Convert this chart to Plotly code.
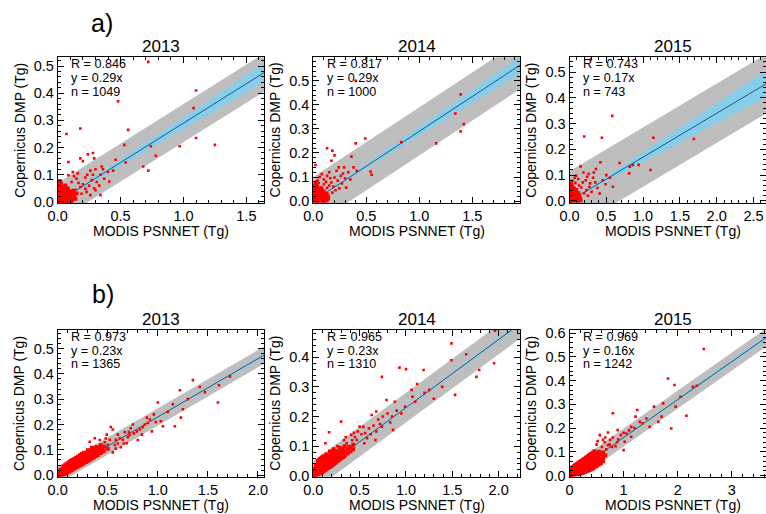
import plotly.graph_objects as go

W, H = 766, 514
FONT = "Liberation Sans, Arial, Helvetica, sans-serif"

years = ["2013", "2014", "2015"]
rows = ["a", "b"]

# Regression statistics for each panel
r_text = {"a": ["0.846", "0.817", "0.743"], "b": ["0.973", "0.965", "0.969"]}
slope = {"a": [0.29, 0.29, 0.17], "b": [0.23, 0.23, 0.16]}
n_obs = {"a": [1049, 1000, 743], "b": [1365, 1310, 1242]}
# Half-width of the grey prediction band (Tg) and of the slope uncertainty (blue cone)
band_half = {"a": [0.07, 0.10, 0.115], "b": [0.034, 0.05, 0.038]}
slope_err = {"a": [0.021, 0.018, 0.019], "b": [0.0025, 0.0025, 0.002]}

# Copernicus DMP vs MODIS PSNNET samples (x = MODIS, y = Copernicus), Tg.
# *_pts: isolated samples; *_core: the dense cloud of small units near the origin.
a13_pts = [
    (0.72, 0.515), (0.48, 0.37), (1.10, 0.41), (1.08, 0.345), (0.18, 0.27), (0.07, 0.25),
    (0.56, 0.265), (1.10, 0.235), (1.25, 0.21), (0.97, 0.205), (0.74, 0.205), (0.53, 0.21),
    (0.78, 0.17), (0.54, 0.145), (0.46, 0.155), (0.28, 0.18), (0.24, 0.175), (0.29, 0.16),
    (0.20, 0.15), (0.085, 0.147), (0.18, 0.16), (0.35, 0.13), (0.36, 0.12), (0.40, 0.11),
    (0.44, 0.115), (0.37, 0.085), (0.34, 0.10), (0.41, 0.075), (0.68, 0.13), (0.72, 0.115),
    (0.26, 0.115), (0.22, 0.09), (0.31, 0.073), (0.15, 0.085), (0.085, 0.098), (0.11, 0.073),
    (0.30, 0.043), (0.23, 0.037), (0.18, 0.055), (0.34, 0.025), (0.13, 0.095), (0.16, 0.105),
    (0.12, 0.11), (0.20, 0.065), (0.25, 0.06), (0.27, 0.08), (0.22, 0.048), (0.19, 0.03),
    (0.26, 0.025), (0.14, 0.045), (0.165, 0.07), (0.235, 0.10), (0.28, 0.10), (0.30, 0.12),
    (0.33, 0.06), (0.29, 0.05),
]
a13_core = [
    (0.003, 0.002), (0.014, 0.004), (0.027, 0.001), (0.04, 0.003), (0.052, 0.002), (0.066, 0.005),
    (0.079, 0.002), (0.093, 0.004), (0.11, 0.003), (0.006, 0.011), (0.019, 0.009), (0.031, 0.013),
    (0.045, 0.01), (0.058, 0.012), (0.071, 0.009), (0.086, 0.013), (0.10, 0.011), (0.118, 0.01),
    (0.14, 0.012), (0.002, 0.02), (0.012, 0.022), (0.024, 0.019), (0.037, 0.021), (0.05, 0.018),
    (0.064, 0.022), (0.078, 0.02), (0.093, 0.019), (0.112, 0.023), (0.13, 0.021), (0.007, 0.029),
    (0.018, 0.031), (0.03, 0.028), (0.043, 0.03), (0.056, 0.027), (0.07, 0.032), (0.085, 0.029),
    (0.102, 0.03), (0.122, 0.028), (0.15, 0.031), (0.003, 0.038), (0.014, 0.04), (0.026, 0.037),
    (0.039, 0.039), (0.053, 0.041), (0.068, 0.037), (0.083, 0.04), (0.10, 0.038), (0.125, 0.041),
    (0.009, 0.047), (0.021, 0.049), (0.035, 0.046), (0.049, 0.048), (0.064, 0.045),
    (0.081, 0.049), (0.004, 0.056), (0.016, 0.058), (0.03, 0.055),
    (0.046, 0.057), (0.062, 0.06), (0.01, 0.065), (0.025, 0.067),
    (0.005, 0.074), (0.02, 0.076),
]

a14_pts = [
    (0.50, 0.595), (0.40, 0.50), (1.39, 0.444), (1.34, 0.364), (1.42, 0.32), (1.39, 0.29),
    (1.16, 0.24), (0.83, 0.245), (0.49, 0.26), (0.40, 0.24), (0.13, 0.22), (0.18, 0.21),
    (0.20, 0.19), (0.17, 0.168), (0.36, 0.185), (0.02, 0.15), (0.15, 0.12), (0.22, 0.126),
    (0.29, 0.14), (0.33, 0.12), (0.38, 0.14), (0.35, 0.09), (0.41, 0.126), (0.54, 0.123),
    (0.55, 0.11), (0.31, 0.056), (0.27, 0.073), (0.20, 0.098), (0.13, 0.105), (0.08, 0.112),
    (0.17, 0.077), (0.245, 0.053), (0.10, 0.09), (0.06, 0.10), (0.23, 0.085), (0.26, 0.105),
    (0.30, 0.095), (0.19, 0.06), (0.21, 0.045), (0.15, 0.065), (0.12, 0.08), (0.04, 0.085),
    (0.28, 0.115), (0.24, 0.14), (0.16, 0.095), (0.13, 0.055), (0.10, 0.07), (0.02, 0.08),
    (0.05, 0.075), (0.18, 0.035),
]
a14_core = [
    (0.003, 0.002), (0.016, 0.004), (0.03, 0.001), (0.044, 0.003), (0.058, 0.002), (0.073, 0.004),
    (0.088, 0.001), (0.105, 0.003), (0.125, 0.002), (0.008, 0.012), (0.022, 0.01), (0.036, 0.013),
    (0.05, 0.011), (0.065, 0.009), (0.08, 0.012), (0.097, 0.01), (0.115, 0.013), (0.14, 0.011),
    (0.002, 0.021), (0.014, 0.023), (0.028, 0.02), (0.043, 0.022), (0.058, 0.019), (0.074, 0.023),
    (0.091, 0.021), (0.11, 0.02), (0.135, 0.022), (0.007, 0.031), (0.02, 0.029),
    (0.035, 0.032), (0.05, 0.03), (0.066, 0.033), (0.083, 0.029), (0.10, 0.031), (0.125, 0.03),
    (0.003, 0.04), (0.015, 0.042), (0.029, 0.039), (0.044, 0.041), (0.06, 0.038),
    (0.078, 0.042), (0.098, 0.04), (0.01, 0.05), (0.024, 0.052), (0.04, 0.049),
    (0.056, 0.051), (0.075, 0.053), (0.005, 0.06), (0.018, 0.062),
    (0.035, 0.059), (0.012, 0.07), (0.03, 0.068),
]

a15_pts = [
    (0.29, 0.55), (0.58, 0.33), (0.20, 0.25), (0.44, 0.245), (1.14, 0.245), (1.69, 0.24),
    (1.10, 0.12), (0.86, 0.14), (0.94, 0.14), (0.82, 0.133), (0.68, 0.147), (0.81, 0.107),
    (0.42, 0.15), (0.36, 0.124), (0.15, 0.134), (0.24, 0.094), (0.28, 0.068), (0.35, 0.072),
    (0.41, 0.029), (0.49, 0.065), (0.59, 0.055), (0.32, 0.09), (0.18, 0.072), (0.09, 0.098),
    (0.04, 0.078), (0.23, 0.042), (0.16, 0.052), (0.12, 0.085), (0.26, 0.105), (0.50, 0.10),
    (0.38, 0.05), (0.30, 0.035), (0.20, 0.03), (0.13, 0.06), (0.22, 0.08), (0.07, 0.09),
    (0.45, 0.08), (0.55, 0.09), (0.33, 0.11), (0.27, 0.055), (0.19, 0.11), (0.08, 0.07),
    (0.25, 0.02),
]
a15_core = [
    (0.004, 0.002), (0.022, 0.004), (0.041, 0.001), (0.06, 0.003), (0.08, 0.002), (0.10, 0.004),
    (0.125, 0.002), (0.15, 0.003), (0.01, 0.011), (0.03, 0.009), (0.05, 0.012), (0.07, 0.01),
    (0.092, 0.013), (0.115, 0.01), (0.14, 0.012), (0.003, 0.02), (0.02, 0.022),
    (0.04, 0.019), (0.061, 0.021), (0.083, 0.02), (0.106, 0.023), (0.13, 0.019),
    (0.012, 0.03), (0.032, 0.028), (0.053, 0.031), (0.075, 0.029), (0.098, 0.032), (0.12, 0.03),
    (0.005, 0.039), (0.025, 0.041), (0.045, 0.038), (0.068, 0.04),
    (0.09, 0.042), (0.015, 0.049), (0.036, 0.051), (0.058, 0.048),
    (0.008, 0.058), (0.03, 0.06), (0.02, 0.067),
]

b13_pts = [
    (1.35, 0.375), (1.42, 0.348), (1.47, 0.328), (1.72, 0.39), (1.61, 0.355), (1.60, 0.287),
    (1.22, 0.335), (1.25, 0.26), (1.23, 0.227), (1.17, 0.193), (1.00, 0.287), (1.03, 0.213),
    (1.05, 0.193), (0.96, 0.24), (0.89, 0.227), (0.90, 0.206), (0.94, 0.173), (0.85, 0.189),
    (0.79, 0.173), (0.80, 0.139), (0.75, 0.20), (0.72, 0.159), (0.69, 0.126), (0.62, 0.146),
    (0.57, 0.119), (0.53, 0.19), (0.55, 0.18), (0.49, 0.16), (0.42, 0.139), (0.45, 0.105),
    (0.37, 0.146), (0.32, 0.132), (0.55, 0.09), (0.60, 0.125), (0.65, 0.14), (0.70, 0.15),
    (0.58, 0.14), (0.63, 0.11), (0.50, 0.12), (0.47, 0.13), (0.52, 0.14), (0.44, 0.12),
    (0.40, 0.10), (0.67, 0.17), (0.76, 0.165), (0.82, 0.18), (0.87, 0.20), (0.92, 0.22),
    (0.98, 0.21), (1.10, 0.25), (1.15, 0.28), (1.30, 0.30), (0.73, 0.185), (0.60, 0.16),
    (0.48, 0.145), (0.38, 0.115), (0.58, 0.105), (0.66, 0.125), (0.71, 0.17), (0.84, 0.16),
]
b13_core = [
    (0.01, 0.001), (0.012, 0.01), (0.025, 0.002), (0.026, 0.008), (0.024, 0.018), (0.04, 0.003),
    (0.041, 0.012), (0.039, 0.022), (0.055, 0.004), (0.056, 0.014), (0.054, 0.025), (0.057, 0.034),
    (0.07, 0.006), (0.071, 0.017), (0.069, 0.028), (0.072, 0.038), (0.085, 0.009), (0.086, 0.021),
    (0.084, 0.032), (0.087, 0.043), (0.10, 0.012), (0.101, 0.024), (0.099, 0.036), (0.102, 0.047),
    (0.115, 0.015), (0.116, 0.028), (0.114, 0.04), (0.117, 0.052), (0.13, 0.018), (0.131, 0.031),
    (0.129, 0.043), (0.132, 0.056), (0.145, 0.021), (0.146, 0.034), (0.144, 0.047), (0.147, 0.06),
    (0.16, 0.025), (0.161, 0.038), (0.159, 0.05), (0.162, 0.063), (0.18, 0.029), (0.181, 0.042),
    (0.179, 0.055), (0.182, 0.068), (0.20, 0.033), (0.201, 0.047), (0.199, 0.06), (0.202, 0.073),
    (0.22, 0.038), (0.221, 0.052), (0.219, 0.065), (0.222, 0.079), (0.24, 0.042), (0.241, 0.056),
    (0.239, 0.07), (0.242, 0.084), (0.26, 0.047), (0.261, 0.061), (0.259, 0.075), (0.262, 0.089),
    (0.28, 0.052), (0.281, 0.066), (0.279, 0.08), (0.30, 0.056), (0.301, 0.07), (0.299, 0.085),
    (0.302, 0.098), (0.32, 0.061), (0.321, 0.075), (0.319, 0.09), (0.34, 0.066), (0.341, 0.08),
    (0.339, 0.095), (0.342, 0.108), (0.36, 0.07), (0.361, 0.085), (0.359, 0.10), (0.38, 0.076),
    (0.381, 0.09), (0.379, 0.104), (0.40, 0.08), (0.401, 0.096), (0.399, 0.11), (0.43, 0.088),
    (0.431, 0.103), (0.429, 0.118), (0.46, 0.094), (0.461, 0.112), (0.50, 0.104),
]

b14_pts = [
    (1.96, 0.49), (1.49, 0.447), (1.65, 0.41), (1.49, 0.39), (1.19, 0.357), (1.00, 0.36),
    (0.93, 0.365), (0.74, 0.334), (1.76, 0.334), (1.95, 0.38), (1.53, 0.273), (1.79, 0.357),
    (1.39, 0.30), (1.30, 0.26), (1.12, 0.31), (1.06, 0.29), (1.07, 0.267), (0.99, 0.233),
    (0.85, 0.20), (0.86, 0.155), (0.79, 0.256), (0.88, 0.25), (0.68, 0.217), (0.63, 0.205),
    (0.30, 0.183), (0.17, 0.147), (0.13, 0.11), (0.50, 0.166), (0.56, 0.144), (0.58, 0.127),
    (0.67, 0.121), (0.74, 0.166), (0.41, 0.138), (0.36, 0.11), (0.47, 0.121), (0.60, 0.16),
    (0.65, 0.17), (0.70, 0.19), (0.75, 0.20), (0.80, 0.21), (0.90, 0.22), (0.95, 0.21),
    (1.10, 0.25), (1.20, 0.28), (1.25, 0.29), (0.52, 0.14), (0.45, 0.13), (0.55, 0.11),
    (0.62, 0.14), (0.83, 0.18), (0.68, 0.15), (0.42, 0.12), (0.38, 0.10), (0.33, 0.12),
    (0.48, 0.15), (0.54, 0.165), (0.44, 0.145), (0.72, 0.175), (0.35, 0.13), (0.26, 0.10),
]
b14_core = [
    (0.008, 0.001), (0.009, 0.009), (0.007, 0.018), (0.02, 0.002), (0.021, 0.012), (0.019, 0.022),
    (0.022, 0.032), (0.035, 0.004), (0.036, 0.014), (0.034, 0.025), (0.037, 0.036), (0.05, 0.006),
    (0.051, 0.017), (0.049, 0.028), (0.052, 0.04), (0.05, 0.05), (0.065, 0.008), (0.066, 0.02),
    (0.064, 0.031), (0.067, 0.043), (0.065, 0.055), (0.08, 0.01), (0.081, 0.022), (0.079, 0.034),
    (0.082, 0.046), (0.08, 0.058), (0.095, 0.013), (0.096, 0.025), (0.094, 0.037), (0.097, 0.05),
    (0.095, 0.062), (0.11, 0.016), (0.111, 0.028), (0.109, 0.04), (0.112, 0.053), (0.11, 0.066),
    (0.125, 0.019), (0.126, 0.031), (0.124, 0.044), (0.127, 0.057), (0.14, 0.022), (0.141, 0.034),
    (0.139, 0.047), (0.142, 0.06), (0.14, 0.072), (0.16, 0.026), (0.161, 0.038), (0.159, 0.051),
    (0.162, 0.064), (0.18, 0.03), (0.181, 0.043), (0.179, 0.056), (0.182, 0.069), (0.18, 0.082),
    (0.20, 0.034), (0.201, 0.047), (0.199, 0.06), (0.202, 0.074), (0.22, 0.039), (0.221, 0.052),
    (0.219, 0.065), (0.222, 0.079), (0.22, 0.09), (0.24, 0.044), (0.241, 0.057), (0.239, 0.07),
    (0.242, 0.084), (0.26, 0.049), (0.261, 0.062), (0.259, 0.076), (0.28, 0.054), (0.281, 0.067),
    (0.279, 0.08), (0.282, 0.095), (0.30, 0.058), (0.301, 0.072), (0.299, 0.086), (0.32, 0.063),
    (0.321, 0.077), (0.319, 0.092), (0.34, 0.068), (0.341, 0.083), (0.339, 0.10), (0.37, 0.075),
    (0.371, 0.09), (0.40, 0.082), (0.401, 0.097), (0.43, 0.09), (0.431, 0.105),
]

b15_pts = [
    (2.48, 0.533), (1.82, 0.409), (1.94, 0.381), (2.28, 0.374), (2.35, 0.378), (2.05, 0.332),
    (1.96, 0.29), (2.16, 0.252), (1.88, 0.198), (1.73, 0.304), (1.70, 0.248), (1.64, 0.226),
    (1.56, 0.29), (1.25, 0.276), (1.22, 0.248), (1.30, 0.226), (1.14, 0.205), (1.00, 0.107),
    (0.80, 0.262), (1.05, 0.177), (0.89, 0.191), (0.71, 0.181), (0.71, 0.128), (0.90, 0.152),
    (0.56, 0.17), (0.85, 0.124), (1.42, 0.24), (1.48, 0.205), (1.14, 0.163), (1.02, 0.142),
    (0.60, 0.12), (0.65, 0.14), (0.75, 0.15), (0.80, 0.16), (0.95, 0.17), (1.10, 0.19),
    (1.20, 0.20), (1.35, 0.22), (0.55, 0.10), (0.50, 0.13), (0.68, 0.11), (0.88, 0.14),
    (0.62, 0.15), (1.00, 0.18), (0.74, 0.13), (0.52, 0.145), (0.66, 0.16), (0.78, 0.12),
]
b15_core = [
    (0.01, 0.001), (0.011, 0.008), (0.03, 0.002), (0.031, 0.01), (0.029, 0.02), (0.05, 0.004),
    (0.051, 0.013), (0.049, 0.023), (0.052, 0.032), (0.07, 0.005), (0.071, 0.015), (0.069, 0.026),
    (0.072, 0.036), (0.09, 0.007), (0.091, 0.018), (0.089, 0.029), (0.092, 0.04), (0.11, 0.009),
    (0.111, 0.02), (0.109, 0.032), (0.112, 0.044), (0.13, 0.011), (0.131, 0.023), (0.129, 0.035),
    (0.132, 0.047), (0.16, 0.006), (0.161, 0.013), (0.159, 0.026), (0.162, 0.039), (0.16, 0.052),
    (0.19, 0.008), (0.191, 0.016), (0.189, 0.029), (0.192, 0.043), (0.19, 0.057), (0.22, 0.01),
    (0.221, 0.019), (0.219, 0.033), (0.222, 0.047), (0.22, 0.061), (0.25, 0.012), (0.251, 0.023),
    (0.249, 0.037), (0.252, 0.051), (0.25, 0.066), (0.28, 0.015), (0.281, 0.026), (0.279, 0.041),
    (0.282, 0.056), (0.28, 0.071), (0.31, 0.018), (0.311, 0.03), (0.309, 0.045), (0.312, 0.06),
    (0.31, 0.076), (0.34, 0.02), (0.341, 0.034), (0.339, 0.049), (0.342, 0.065), (0.34, 0.081),
    (0.37, 0.023), (0.371, 0.038), (0.369, 0.053), (0.372, 0.069), (0.37, 0.086), (0.40, 0.026),
    (0.401, 0.042), (0.399, 0.058), (0.402, 0.074), (0.40, 0.091), (0.43, 0.03), (0.431, 0.047),
    (0.429, 0.063), (0.432, 0.079), (0.43, 0.096), (0.46, 0.035), (0.461, 0.051), (0.459, 0.068),
    (0.462, 0.085), (0.46, 0.102), (0.50, 0.04), (0.501, 0.057), (0.499, 0.075), (0.502, 0.093),
    (0.54, 0.046), (0.541, 0.063), (0.539, 0.082), (0.542, 0.10), (0.58, 0.052),
    (0.581, 0.07), (0.579, 0.09), (0.62, 0.06), (0.621, 0.077), (0.619, 0.097),
    (0.66, 0.085),
]

scatter_pts = {"a": [a13_pts, a14_pts, a15_pts], "b": [b13_pts, b14_pts, b15_pts]}
core_pts = {"a": [a13_core, a14_core, a15_core], "b": [b13_core, b14_core, b15_core]}

# Panel geometry (pixels in the 766 x 514 canvas)
col_left = [57.7, 313.3, 569.5]
col_right = [264.0, 520.0, 766.0]
col_center = [161.0, 417.0, 673.0]
row_top = {"a": 57.3, "b": 330.0}
row_bottom = {"a": 203.0, "b": 476.7}
x_max = {"a": [1.64, 1.95, 2.67], "b": [2.06, 2.23, 3.63]}
y_rng = {"a": [(-0.004, 0.532), (-0.008, 0.598), (-0.008, 0.557)],
         "b": [(-0.006, 0.573), (-0.003, 0.492), (-0.005, 0.613)]}
x_major = {"a": [0.5, 0.5, 0.5], "b": [0.5, 0.5, 1.0]}

GREY = "#bebebe"
SKY = "#87ceeb"
LINE = "#1f5a8a"
RED = "#ff0000"


def px(x):
    return x / W


def py(y):
    return 1 - y / H


fig = go.Figure()
layout = dict(
    width=W, height=H, margin=dict(l=0, r=0, t=0, b=0),
    paper_bgcolor="white", plot_bgcolor="white", showlegend=False,
    font=dict(family=FONT, size=14, color="black"),
)
annotations = []

k = 0
for row in rows:
    for c in range(3):
        k += 1
        xa = "x" if k == 1 else f"x{k}"
        ya = "y" if k == 1 else f"y{k}"
        xname = "xaxis" if k == 1 else f"xaxis{k}"
        yname = "yaxis" if k == 1 else f"yaxis{k}"
        m = slope[row][c]
        hw = band_half[row][c]
        se = slope_err[row][c]
        xm = x_max[row][c]
        xs = [0.0, xm]

        # grey prediction band
        fig.add_trace(go.Scatter(x=xs, y=[m * v - hw for v in xs], mode="lines",
                                 line=dict(width=0, color=GREY), xaxis=xa, yaxis=ya,
                                 hoverinfo="skip"))
        fig.add_trace(go.Scatter(x=xs, y=[m * v + hw for v in xs], mode="lines",
                                 line=dict(width=0, color=GREY), fill="tonexty",
                                 fillcolor=GREY, xaxis=xa, yaxis=ya, hoverinfo="skip"))
        # blue slope-uncertainty cone
        fig.add_trace(go.Scatter(x=xs, y=[(m - se) * v for v in xs], mode="lines",
                                 line=dict(width=0, color=SKY), xaxis=xa, yaxis=ya,
                                 hoverinfo="skip"))
        fig.add_trace(go.Scatter(x=xs, y=[(m + se) * v for v in xs], mode="lines",
                                 line=dict(width=0, color=SKY), fill="tonexty",
                                 fillcolor=SKY, xaxis=xa, yaxis=ya, hoverinfo="skip"))
        # regression line
        fig.add_trace(go.Scatter(x=xs, y=[m * v for v in xs], mode="lines",
                                 line=dict(width=1, color=LINE), xaxis=xa, yaxis=ya))
        # dense cloud and isolated samples
        core = core_pts[row][c]
        fig.add_trace(go.Scatter(x=[p[0] for p in core], y=[p[1] for p in core],
                                 mode="markers",
                                 marker=dict(symbol="square", size=4, color=RED,
                                             line=dict(width=0)),
                                 xaxis=xa, yaxis=ya))
        pts = scatter_pts[row][c]
        fig.add_trace(go.Scatter(x=[p[0] for p in pts], y=[p[1] for p in pts],
                                 mode="markers",
                                 marker=dict(symbol="square", size=2.6, color=RED,
                                             line=dict(width=0)),
                                 xaxis=xa, yaxis=ya))

        common = dict(
            showline=True, linecolor="black", linewidth=1, mirror="allticks",
            ticks="inside", ticklen=6, tickwidth=1, tickcolor="black",
            showgrid=False, zeroline=False, automargin=False,
            tickfont=dict(family=FONT, size=14.5, color="black"),
        )
        xm_major = x_major[row][c]
        layout[xname] = dict(
            common, anchor=ya, range=[0, xm],
            domain=[px(col_left[c]), px(col_right[c])],
            tick0=0, dtick=xm_major,
            tickformat="d" if xm_major >= 1 else ".1f",
            minor=dict(ticks="inside", ticklen=3, tickcolor="black", dtick=xm_major / 5,
                       showgrid=False),
        )
        layout[yname] = dict(
            common, anchor=xa, range=list(y_rng[row][c]),
            domain=[py(row_bottom[row]), py(row_top[row])],
            tick0=0, dtick=0.1, tickformat=".1f",
            minor=dict(ticks="inside", ticklen=3, tickcolor="black", dtick=0.02,
                       showgrid=False),
        )

        # year title
        annotations.append(dict(text=years[c], x=px(col_center[c]),
                                y=py(row_top[row] - 11), xref="paper", yref="paper",
                                showarrow=False, xanchor="center", yanchor="middle",
                                font=dict(size=17)))
        # statistics block
        lines = [f"R = {r_text[row][c]}", f"y = {m:.2f}x", f"n = {n_obs[row][c]}"]
        for i, t in enumerate(lines):
            annotations.append(dict(text=t, x=px(col_left[c] + 12.5),
                                    y=py(row_top[row] + 7.0 + 13.6 * i),
                                    xref="paper", yref="paper", showarrow=False,
                                    xanchor="left", yanchor="middle", borderpad=0,
                                    font=dict(size=12.6)))
        # axis titles
        annotations.append(dict(text="MODIS PSNNET (Tg)", x=px(col_center[c]),
                                y=py(row_bottom[row] + 28.5), xref="paper", yref="paper",
                                showarrow=False, xanchor="center", yanchor="middle",
                                font=dict(size=14)))
        annotations.append(dict(text="Copernicus DMP (Tg)", x=px(col_left[c] - 38),
                                y=py((row_top[row] + row_bottom[row]) / 2),
                                xref="paper", yref="paper", showarrow=False,
                                textangle=-90, xanchor="center", yanchor="middle",
                                font=dict(size=14)))

# panel letters
annotations.append(dict(text="a)", x=px(102), y=py(23), xref="paper", yref="paper",
                        showarrow=False, xanchor="center", yanchor="middle",
                        font=dict(size=25)))
annotations.append(dict(text="b)", x=px(103), y=py(294), xref="paper", yref="paper",
                        showarrow=False, xanchor="center", yanchor="middle",
                        font=dict(size=25)))

layout["annotations"] = annotations
fig.update_layout(**layout)
fig.write_html("out.html")
